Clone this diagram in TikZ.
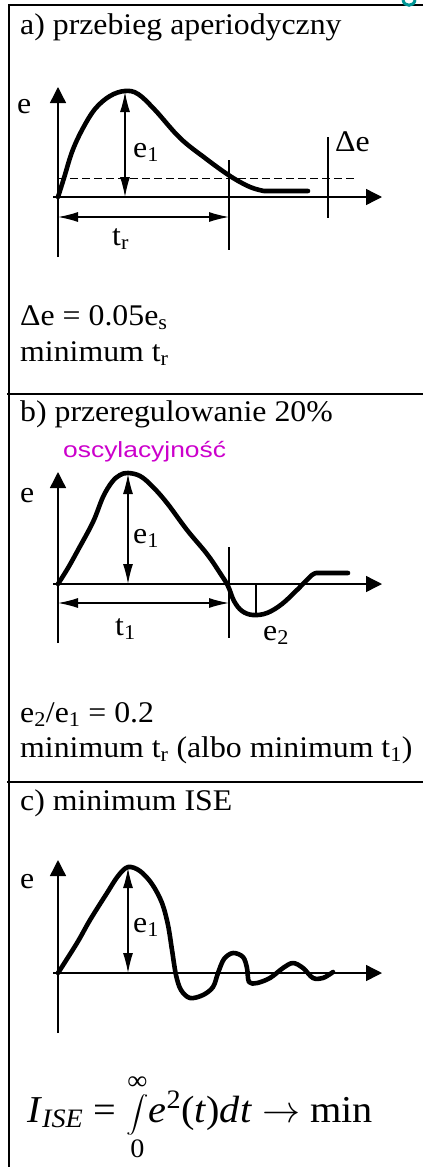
\RequirePackage{fix-cm}
\documentclass[tikz,border=0pt]{standalone}
\usepackage{amsmath}
\usepackage{fontspec}
\setmainfont{Liberation Serif}[FakeStretch=1.06]
\newfontfamily\oscfont{Liberation Sans}[FakeStretch=1.2]
\usetikzlibrary{arrows.meta}
\definecolor{OscMagenta}{RGB}{204,0,204}
\definecolor{CapTeal}{RGB}{0,150,150}

\begin{document}
\begin{tikzpicture}[x=1pt,y=-1pt,
  every node/.style={inner sep=0pt,font=\fontsize{30}{34}\selectfont},
  txt/.style={anchor=base west},
  axis/.style={line width=1.4pt,-{Triangle[length=16pt,width=16pt]}},
  dimarr/.style={line width=1.2pt,{Latex[length=20pt,width=10pt]}-{Latex[length=20pt,width=10pt]}},
  guide/.style={line width=1.2pt},
  curve/.style={line width=4.6pt,line join=round,line cap=round}]
  \useasboundingbox (0,0) rectangle (423,1167);
  \fill[white] (0,0) rectangle (423,1167);
  % frame and separators
  \draw[line width=1.6pt] (423,5) -- (9,5) -- (9,1167);
  \draw[line width=1.6pt] (7,394) -- (423,394);
  \draw[line width=1.6pt] (7,782) -- (423,782);
  \draw[CapTeal,line width=3pt] (403,0) .. controls (404,7) and (414,7) .. (415,0);

  % a) aperiodic
  \node[txt] (titA) at (20,34) {a) przebieg aperiodyczny};
  \coordinate (aO) at (58,197);
  \coordinate (aPk) at (125,92);
  \coordinate (aTr) at (229,217);
  \draw[axis] (58,257) -- (58,87);
  \draw[axis] (53,197) -- (382,197);
  \node[txt] (eA) at (17,113) {e};
  \draw[line width=1pt,dash pattern=on 8pt off 4pt] (58,178) -- (357,178);
  \draw[curve] plot[smooth,tension=0.6] coordinates {(58,197) (64,178) (72,152) (82,130) (95,109) (110,96) (125,91) (138,94) (155,110) (180,138) (205,158) (230,176) (250,187) (264,191)} -- (308,191);
  \draw[dimarr] (aPk) -- (aPk |- aO);
  \node[txt] (e1A) at (133,157) {e\textsubscript{1}};
  \draw[guide] (229,160) -- (229,250);
  \draw[guide] (328,137) -- (328,218);
  \node[txt] (deA) at (335,151) {Δe};
  \draw[dimarr] (58,217) -- (aTr);
  \node[txt] (trA) at (112,245) {t\textsubscript{r}};
  \node[txt] (condA) at (20,325) {Δe = 0.05e\textsubscript{s}};
  \node[txt] (minA) at (20,361) {minimum t\textsubscript{r}};

  % b) overshoot
  \node[txt] (titB) at (20,421) {b) przeregulowanie 20\%};
  \node[txt,font=\oscfont\fontsize{22}{25}\selectfont,text=OscMagenta] (osc) at (63,457) {oscylacyjność};
  \coordinate (bO) at (58,584);
  \coordinate (bPk) at (128,474);
  \coordinate (bTr) at (229,603);
  \draw[axis] (58,643) -- (58,472);
  \draw[axis] (53,584) -- (382,584);
  \node[txt] (eB) at (20,502) {e};
  \draw[curve] plot[smooth,tension=0.6] coordinates {(58,584) (68,568) (78,550) (93,522) (103,497) (112,482) (120,475) (128,473) (140,476) (152,486) (167,503) (187,530) (207,554) (220,573) (228,586) (234,601) (242,611) (253,615) (267,613) (282,604) (298,589) (312,575) (318,573)} -- (348,573);
  \draw[dimarr] (bPk) -- (bPk |- bO);
  \node[txt] (e1B) at (133,543) {e\textsubscript{1}};
  \draw[guide] (229,547) -- (229,638);
  \draw[guide] (256,584) -- (256,614);
  \node[txt] (e2B) at (263,640) {e\textsubscript{2}};
  \draw[dimarr] (58,603) -- (bTr);
  \node[txt] (t1B) at (115,635) {t\textsubscript{1}};
  \node[txt] (condB) at (20,722) {e\textsubscript{2}/e\textsubscript{1} = 0.2};
  \node[txt] (minB) at (20,757) {minimum t\textsubscript{r} (albo minimum t\textsubscript{1})};

  % c) minimum ISE
  \node[txt] (titC) at (20,810) {c) minimum ISE};
  \coordinate (cO) at (58,973);
  \coordinate (cPk) at (128,868);
  \draw[axis] (58,1033) -- (58,860);
  \draw[axis] (53,973) -- (382,973);
  \node[txt] (eC) at (20,888) {e};
  \draw[curve] plot[smooth,tension=0.55] coordinates {(58,973) (77,943) (90,920) (107,893) (118,876) (128,867) (140,871) (152,884) (162,903) (168,925) (172,950) (176,975) (181,990) (190,998) (203,995) (213,987) (218,973) (224,959) (233,953) (243,957) (247,968) (249,982) (257,983) (270,978) (283,968) (293,963) (303,968) (313,978) (323,978) (333,972)};
  \draw[dimarr] (cPk) -- (cPk |- cO);
  \node[txt] (e1C) at (133,932) {e\textsubscript{1}};
  \node[txt,font=\fontsize{38}{42}\selectfont] (ise) at (27,1122)
     {\textit{I}\textsubscript{\textit{ISE}} = $\displaystyle\mathop{\scalebox{0.9}[0.74]{$\displaystyle\int$}}\limits_{\text{0}}^{\text{∞}}$\textit{e}\textsuperscript{2}(\textit{t})\textit{dt} $\rightarrow$ min};
\end{tikzpicture}
\end{document}
